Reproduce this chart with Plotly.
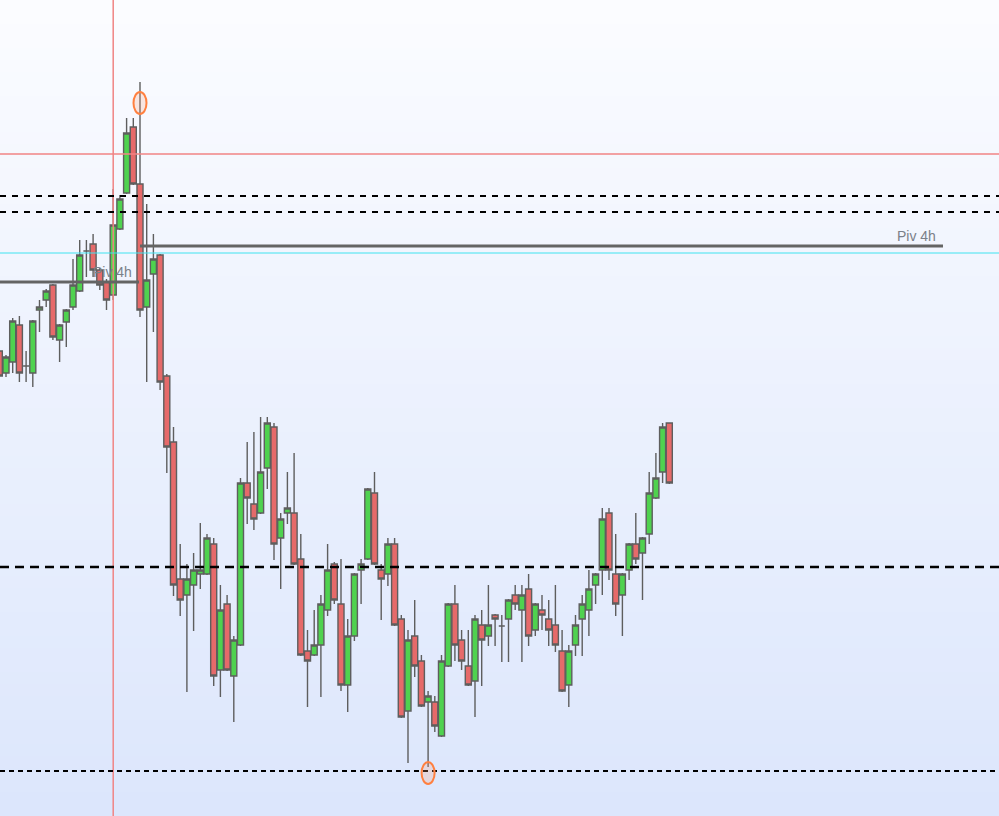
import plotly.graph_objects as go

# ---- data ----
idx = list(range(-1, 100))
open_ = [1.2649, 1.2627, 1.2638, 1.2675, 1.2634, 1.2627, 1.2690, 1.2700, 1.2715, 1.2660,
         1.2678, 1.2693, 1.2709, 1.2749, 1.2756, 1.2730, 1.2718, 1.2705, 1.2771, 1.2807,
         1.2873, 1.2816, 1.2693, 1.2726, 1.2745, 1.2624, 1.2558, 1.2421, 1.2405, 1.2415,
         1.2426, 1.2426, 1.2456, 1.2330, 1.2396, 1.2324, 1.2355, 1.2517, 1.2496, 1.2487,
         1.2532, 1.2573, 1.2462, 1.2487, 1.2487, 1.2441, 1.2349, 1.2345, 1.2355, 1.2390,
         1.2436, 1.2396, 1.2315, 1.2364, 1.2430, 1.2441, 1.2507, 1.2430, 1.2426, 1.2456,
         1.2381, 1.2289, 1.2364, 1.2339, 1.2298, 1.2298, 1.2264, 1.2334, 1.2396, 1.2360,
         1.2334, 1.2319, 1.2375, 1.2364, 1.2385, 1.2374, 1.2381, 1.2405, 1.2390, 1.2411,
         1.2370, 1.2390, 1.2381, 1.2375, 1.2349, 1.2315, 1.2355, 1.2381, 1.2390, 1.2415,
         1.2430, 1.2487, 1.2426, 1.2405, 1.2430, 1.2456, 1.2447, 1.2466, 1.2502, 1.2528,
         1.2577]
high = [1.2652, 1.2645, 1.2682, 1.2684, 1.2649, 1.2680, 1.2700, 1.2711, 1.2716, 1.2676,
        1.2691, 1.2741, 1.2760, 1.2760, 1.2766, 1.2732, 1.2721, 1.2811, 1.2805, 1.2882,
        1.2882, 1.2918, 1.2796, 1.2766, 1.2746, 1.2626, 1.2573, 1.2456, 1.2436, 1.2447,
        1.2477, 1.2466, 1.2462, 1.2415, 1.2405, 1.2364, 1.2522, 1.2558, 1.2568, 1.2583,
        1.2583, 1.2577, 1.2487, 1.2528, 1.2547, 1.2466, 1.2370, 1.2390, 1.2405, 1.2456,
        1.2438, 1.2441, 1.2381, 1.2427, 1.2441, 1.2512, 1.2528, 1.2436, 1.2462, 1.2462,
        1.2385, 1.2370, 1.2400, 1.2345, 1.2309, 1.2304, 1.2345, 1.2397, 1.2415, 1.2370,
        1.2370, 1.2385, 1.2390, 1.2415, 1.2386, 1.2385, 1.2401, 1.2415, 1.2415, 1.2426,
        1.2397, 1.2405, 1.2400, 1.2415, 1.2370, 1.2355, 1.2385, 1.2405, 1.2430, 1.2427,
        1.2492, 1.2492, 1.2466, 1.2427, 1.2457, 1.2487, 1.2463, 1.2528, 1.2547, 1.2577,
        1.2577]
low = [1.2622, 1.2623, 1.2627, 1.2618, 1.2618, 1.2613, 1.2668, 1.2693, 1.2660, 1.2638,
       1.2653, 1.2690, 1.2708, 1.2723, 1.2723, 1.2710, 1.2690, 1.2700, 1.2770, 1.2806,
       1.2815, 1.2683, 1.2618, 1.2668, 1.2610, 1.2527, 1.2404, 1.2384, 1.2308, 1.2369,
       1.2411, 1.2425, 1.2314, 1.2303, 1.2329, 1.2278, 1.2354, 1.2476, 1.2470, 1.2486,
       1.2511, 1.2440, 1.2411, 1.2476, 1.2435, 1.2344, 1.2293, 1.2344, 1.2303, 1.2384,
       1.2396, 1.2309, 1.2288, 1.2359, 1.2396, 1.2440, 1.2435, 1.2380, 1.2414, 1.2374,
       1.2282, 1.2237, 1.2323, 1.2293, 1.2233, 1.2268, 1.2263, 1.2333, 1.2339, 1.2330,
       1.2314, 1.2283, 1.2314, 1.2354, 1.2354, 1.2338, 1.2338, 1.2390, 1.2338, 1.2354,
       1.2364, 1.2370, 1.2354, 1.2348, 1.2308, 1.2293, 1.2344, 1.2344, 1.2364, 1.2396,
       1.2405, 1.2420, 1.2384, 1.2364, 1.2420, 1.2436, 1.2400, 1.2456, 1.2501, 1.2517,
       1.2516]
close = [1.2624, 1.2643, 1.2679, 1.2627, 1.2634, 1.2679, 1.2693, 1.2709, 1.2663, 1.2675,
         1.2690, 1.2715, 1.2745, 1.2749, 1.2730, 1.2715, 1.2700, 1.2775, 1.2801, 1.2867,
         1.2816, 1.2690, 1.2720, 1.2741, 1.2618, 1.2553, 1.2415, 1.2400, 1.2421, 1.2430,
         1.2430, 1.2462, 1.2324, 1.2390, 1.2330, 1.2360, 1.2517, 1.2502, 1.2481, 1.2528,
         1.2577, 1.2456, 1.2481, 1.2492, 1.2436, 1.2345, 1.2339, 1.2355, 1.2396, 1.2430,
         1.2400, 1.2315, 1.2364, 1.2426, 1.2436, 1.2511, 1.2436, 1.2421, 1.2456, 1.2375,
         1.2283, 1.2360, 1.2334, 1.2294, 1.2304, 1.2274, 1.2339, 1.2396, 1.2355, 1.2339,
         1.2315, 1.2381, 1.2360, 1.2375, 1.2381, 1.2374, 1.2400, 1.2396, 1.2405, 1.2364,
         1.2396, 1.2385, 1.2370, 1.2355, 1.2309, 1.2349, 1.2375, 1.2396, 1.2411, 1.2426,
         1.2481, 1.2430, 1.2396, 1.2426, 1.2456, 1.2441, 1.2462, 1.2507, 1.2522, 1.2573,
         1.2517]

# horizontal levels
red_level = 1.2846
dashed_levels = [1.2804, 1.2788]
support_level = 1.2433
low_level = 1.2229
cyan_level = 1.2747
piv_levels = [1.2718, 1.2754]
piv_x0 = [-1.5, 20.0]
piv_x1 = [19.85, 139.85]
piv_labels = ["Piv 4h", "Piv 4h"]
red_vertical_x = 16
marker_x = [20, 63]
marker_y = [1.2897, 1.2227]

X_RANGE = [-0.8955, 148.21]
Y_RANGE = [1.2184, 1.3000]

fig = go.Figure()
fig.add_trace(go.Candlestick(
    x=idx, open=open_, high=high, low=low, close=close,
    increasing=dict(fillcolor="#4fd24f", line=dict(color="#5e5e5e", width=1.4)),
    decreasing=dict(fillcolor="#e66a6a", line=dict(color="#5e5e5e", width=1.4)),
    whiskerwidth=0, hoverinfo="skip", showlegend=False,
))

shapes = []
# background gradient
n = 68
top = (251, 252, 255)
bot = (220, 230, 252)
for i in range(n):
    t = i / (n - 1)
    c = tuple(round(top[k] + (bot[k] - top[k]) * t) for k in range(3))
    shapes.append(dict(type="rect", xref="paper", yref="paper",
                       x0=0, x1=1, y0=1 - (i + 1) / n, y1=1 - i / n,
                       fillcolor="rgb(%d,%d,%d)" % c, line=dict(width=0), layer="below"))

# red crosshair lines
shapes.append(dict(type="line", xref="paper", x0=0, x1=1, yref="y", y0=red_level, y1=red_level,
                   line=dict(color="#f08484", width=1.5)))
shapes.append(dict(type="line", xref="x", x0=red_vertical_x, x1=red_vertical_x, yref="paper", y0=0, y1=1,
                   line=dict(color="#f08484", width=1.5)))
# cyan thin line
shapes.append(dict(type="line", xref="paper", x0=0, x1=1, yref="y", y0=cyan_level, y1=cyan_level,
                   line=dict(color="#3fe3f0", width=1)))
# dashed levels
for lv in dashed_levels:
    shapes.append(dict(type="line", xref="paper", x0=0, x1=1, yref="y", y0=lv, y1=lv,
                       line=dict(color="black", width=2, dash="6px,6px")))
shapes.append(dict(type="line", xref="paper", x0=0, x1=1, yref="y", y0=support_level, y1=support_level,
                   line=dict(color="black", width=2.5, dash="9px,6px")))
shapes.append(dict(type="line", xref="paper", x0=0, x1=1, yref="y", y0=low_level, y1=low_level,
                   line=dict(color="black", width=1.8, dash="5px,4px")))
# pivot lines
for lv, a, b in zip(piv_levels, piv_x0, piv_x1):
    shapes.append(dict(type="line", xref="x", x0=a, x1=b, yref="y", y0=lv, y1=lv,
                       line=dict(color="#646464", width=3)))
# ellipse markers
for mx, my in zip(marker_x, marker_y):
    shapes.append(dict(type="circle", xref="x", yref="y",
                       x0=mx - 0.97, x1=mx + 0.97, y0=my - 0.0011, y1=my + 0.0011,
                       line=dict(color="#ff8040", width=2), fillcolor="rgba(255,160,120,0.22)"))

annotations = []
for lv, b, txt in zip(piv_levels, piv_x1, piv_labels):
    annotations.append(dict(x=b, y=lv, xref="x", yref="y", text=txt, showarrow=False,
                            xanchor="right", yanchor="bottom", xshift=-5, yshift=0,
                            font=dict(family="Arial, Liberation Sans, sans-serif", size=14, color="#7a8088")))

fig.update_layout(
    width=999, height=816,
    margin=dict(l=0, r=0, t=0, b=0),
    paper_bgcolor="#eef2fd", plot_bgcolor="rgba(0,0,0,0)",
    shapes=shapes, annotations=annotations,
    boxgap=0.1, boxgroupgap=0,
    xaxis=dict(range=X_RANGE, visible=False, rangeslider=dict(visible=False), fixedrange=True),
    yaxis=dict(range=Y_RANGE, visible=False, fixedrange=True),
    showlegend=False,
)

fig.write_html(
    "out.html",
    config={"displayModeBar": False},
    post_script="document.body.style.margin='0';document.body.style.padding='0';document.body.style.overflow='hidden';",
)
